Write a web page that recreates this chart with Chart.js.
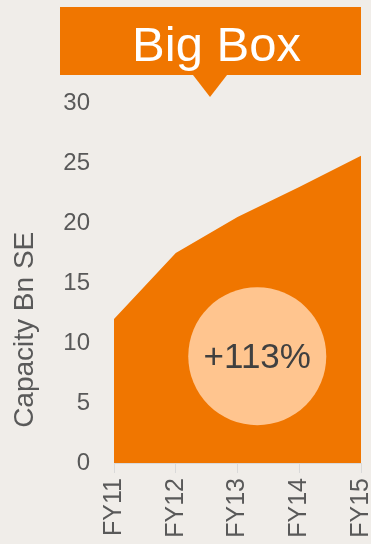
<!DOCTYPE html>
<html>
<head>
<meta charset="utf-8">
<script src="https://cdn.jsdelivr.net/npm/chart.js@4.4.1/dist/chart.umd.min.js"></script>
<style>
  html, body { margin: 0; padding: 0; background: #f0ede9; }
  #wrap { position: relative; width: 371px; height: 544px; overflow: hidden; }
  #title {
    position: absolute; left: 60px; top: 7px; width: 301px; height: 68px;
    background: #f07600; color: #fff; text-align: center;
    font-family: 'Liberation Sans', Arial, sans-serif; font-size: 49px;
    line-height: 74px; padding-left: 12px; box-sizing: border-box;
  }
  #pointer {
    position: absolute; left: 193px; top: 75px; width: 0; height: 0;
    border-left: 17px solid transparent; border-right: 17px solid transparent;
    border-top: 22px solid #f07600;
  }
  canvas { position: absolute; left: 0; top: 0; }
</style>
</head>
<body>
<div id="wrap">
  <canvas id="areaChart" width="371" height="544"></canvas>
  <div id="title">Big Box</div>
  <div id="pointer"></div>
</div>
<script>
var years = ['FY11', 'FY12', 'FY13', 'FY14', 'FY15'];
var capacity = [12, 17.5, 20.5, 23, 25.6];
var yTicks = [0, 5, 10, 15, 20, 25, 30];
var growthLabel = '+113%';
var yTitle = 'Capacity Bn SE';

var orange = '#f07600';
var grey = '#595959';
var font = "'Liberation Sans', Arial, sans-serif";

// light bubble with the growth figure, placed by the chart's scales
var growthBubble = {
  id: 'growthBubble',
  afterDatasetsDraw: function(chart, args, opts) {
    var ctx = chart.ctx;
    var x = chart.scales.x.getPixelForValue(opts.at[0]);
    var y = chart.scales.y.getPixelForValue(opts.at[1]);
    ctx.save();
    ctx.beginPath();
    ctx.arc(x, y, opts.radius, 0, Math.PI * 2);
    ctx.fillStyle = '#ffc58f';
    ctx.fill();
    ctx.fillStyle = '#404040';
    ctx.font = '35px ' + font;
    ctx.textAlign = 'center';
    ctx.textBaseline = 'middle';
    ctx.fillText(opts.text, x, y + 2);
    ctx.restore();
  }
};

// y axis title sits lower than the scale's middle, so draw it by hand
var axisTitle = {
  id: 'axisTitle',
  afterDraw: function(chart, args, opts) {
    var ctx = chart.ctx;
    var y = chart.scales.y.getPixelForValue(opts.center);
    ctx.save();
    ctx.translate(opts.x, y);
    ctx.rotate(-Math.PI / 2);
    ctx.fillStyle = grey;
    ctx.font = '28px ' + font;
    ctx.textAlign = 'center';
    ctx.textBaseline = 'alphabetic';
    ctx.fillText(opts.text, 0, 0);
    ctx.restore();
  }
};

var chart = new Chart(document.getElementById('areaChart'), {
  type: 'line',
  data: {
    labels: years,
    datasets: [{
      data: capacity,
      fill: 'origin',
      backgroundColor: orange,
      borderColor: orange,
      borderWidth: 0,
      pointRadius: 0,
      tension: 0
    }]
  },
  options: {
    responsive: false,
    animation: false,
    layout: { padding: { top: 103, right: 10 } },
    plugins: {
      legend: { display: false },
      tooltip: { enabled: false },
      growthBubble: { at: [2.32, 8.9], radius: 69, text: growthLabel },
      axisTitle: { text: yTitle, x: 33, center: 11.1 }
    },
    scales: {
      x: {
        offset: false,
        grid: { drawOnChartArea: false, color: '#d9d9d9', tickLength: 10 },
        border: { color: '#d9d9d9' },
        ticks: { minRotation: 90, maxRotation: 90, color: grey, font: { family: font, size: 25 }, padding: 5 },
        afterFit: function(scale) {
          scale.height = 81;
          // keep the rotated end labels from squeezing the plot
          scale.paddingLeft = 0;
          scale.paddingRight = 0;
        }
      },
      y: {
        min: 0,
        max: 30,
        afterBuildTicks: function(scale) {
          scale.ticks = yTicks.map(function(v) { return { value: v }; });
        },
        grid: { display: false },
        border: { display: false },
        ticks: { color: grey, font: { family: font, size: 24 }, padding: 16 },
        afterFit: function(scale) { scale.width = 114; }
      }
    }
  },
  plugins: [growthBubble, axisTitle]
});
</script>
</body>
</html>
